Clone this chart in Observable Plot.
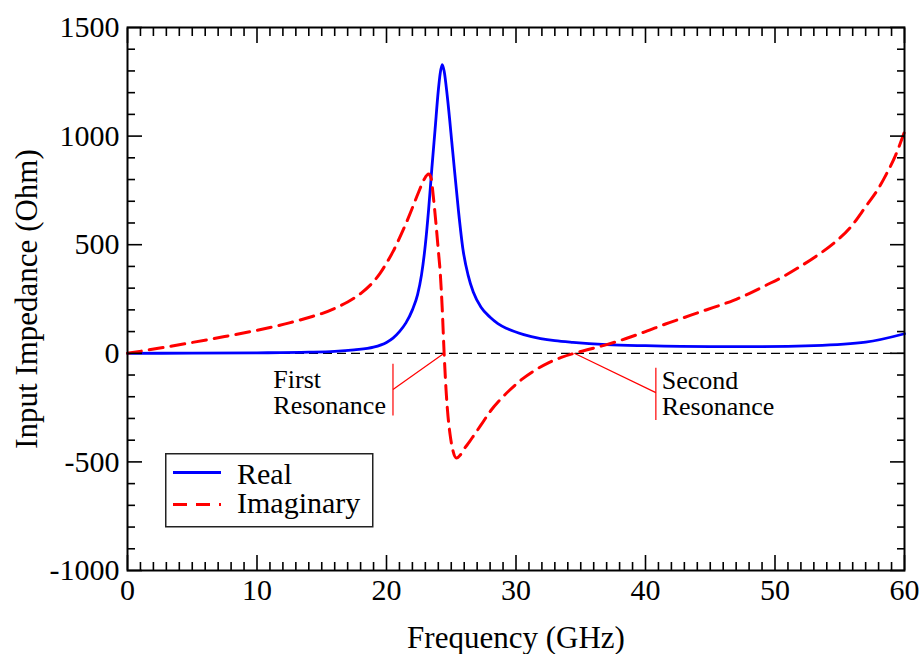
<!DOCTYPE html>
<html><head><meta charset="utf-8">
<script src="https://cdn.jsdelivr.net/npm/d3@7"></script>
<script src="https://cdn.jsdelivr.net/npm/@observablehq/plot@0.6"></script>
<style>
body{margin:0;background:#fff;}
#wrap{position:relative;width:922px;height:654px;}
</style></head><body><div id="wrap"></div>
<script>
// ---- data ----
const freqReal = [0, 5, 10, 14, 16, 17.5, 19, 20, 20.5, 21, 21.5, 22, 22.4, 22.7, 23, 23.25, 23.5, 23.75, 24, 24.15, 24.3, 24.45, 24.7, 25.1, 25.55, 25.9, 26.3, 26.7, 27.3, 28, 28.6, 29.3, 30.6, 31.9, 33, 34.4, 37, 40, 45, 49, 53, 57, 60];
const realZ    = [0, 0.5, 2, 5, 9, 16, 28, 50, 70, 100, 140, 200, 270, 360, 500, 660, 850, 1030, 1210, 1290, 1329, 1300, 1180, 937, 660, 480, 360, 282, 212, 166, 137, 114, 86, 68, 58, 50, 40, 35, 31, 31, 35, 51, 90];
const freqImag = [0, 2.5, 5, 7.5, 10, 12.5, 14, 15, 16, 17, 18, 19, 19.5, 20, 20.5, 21, 21.5, 22, 22.5, 22.9, 23.25, 23.45, 23.6, 23.8, 24, 24.15, 24.3, 24.45, 24.6, 24.75, 24.9, 25.1, 25.4, 25.7, 26, 26.4, 26.8, 27.3, 28, 28.8, 29.5, 30.5, 31.5, 32.5, 33.5, 34.5, 35.5, 37, 38.5, 40, 41.6, 43, 44.2, 45.5, 46.8, 48, 49.3, 50.6, 51.9, 53.2, 54.5, 55.8, 57, 58, 58.6, 59.3, 60];
const imagZ    = [0, 24, 50, 77, 106, 140, 165, 183, 207, 236, 275, 330, 368, 415, 468, 530, 597, 670, 745, 800, 825, 805, 730, 610, 475, 370, 210, 0, -170, -290, -370, -440, -482, -468, -440, -408, -373, -330, -268, -212, -170, -118, -77, -44, -19, 0, 16, 40, 68, 100, 136, 165, 190, 216, 244, 275, 313, 352, 398, 448, 505, 578, 675, 760, 825, 910, 1020];
const seriesNames = ["Real", "Imaginary"];
const xTicks = [0, 10, 20, 30, 40, 50, 60];
const yTicks = [-1000, -500, 0, 500, 1000, 1500];
const xTitle = "Frequency (GHz)";
const yTitle = "Input Impedance (Ohm)";
const resonanceFreq = [24.45, 34.5];
const resonanceLabels = ["First\nResonance", "Second\nResonance"];

// ---- layout / style ----
const seriesColors = ["#0000ff", "#ff0000"];
const xMinor = d3.range(0, 61, 1).filter(d => d % 10 !== 0);
const yMinor = d3.range(-1000, 1501, 100).filter(d => d % 500 !== 0);
// callout geometry (bar x, bar top, bar bottom, elbow y, text x, text y)
const callouts = [
  {bx: 20.5, top: -48, bottom: -286, elbow: -167, tx: 11.26, ty: -182},
  {bx: 40.8, top: -67, bottom: -307, elbow: -181, tx: 41.25, ty: -184}
];

const realData = freqReal.map((f, i) => ({f, v: realZ[i]}));
const imagData = freqImag.map((f, i) => ({f, v: imagZ[i]}));
const calloutData = callouts.map((c, i) => ({...c, px: resonanceFreq[i], label: resonanceLabels[i]}));

const font = "'Liberation Serif', 'Times New Roman', Times, serif";
const blank = () => "";

const chart = Plot.plot({
  width: 922, height: 654,
  marginLeft: 127, marginRight: 18, marginTop: 27, marginBottom: 84,
  style: {fontFamily: font, fontSize: "30px", color: "#000", background: "#fff", overflow: "visible"},
  x: {domain: [0, 60]},
  y: {domain: [-1000, 1500]},
  marks: [
    Plot.ruleY([0], {stroke: "#000", strokeWidth: 1.3, strokeDasharray: "9,5"}),
    Plot.line(realData, {x: "f", y: "v", stroke: seriesColors[0], strokeWidth: 2.8, curve: "monotone-x"}),
    Plot.line(imagData, {x: "f", y: "v", stroke: seriesColors[1], strokeWidth: 3, strokeDasharray: "14,8", curve: "monotone-x"}),
    // callouts
    Plot.link(calloutData, {x1: "bx", x2: "bx", y1: "top", y2: "bottom", stroke: "#ff0000", strokeWidth: 1.2}),
    Plot.link(calloutData, {x1: "bx", y1: "elbow", x2: "px", y2: () => 0, stroke: "#ff0000", strokeWidth: 1.2}),
    Plot.text(calloutData, {x: "tx", y: "ty", text: "label", textAnchor: "start", lineAnchor: "middle", lineHeight: 1, fontSize: 26, fill: "#000"}),
    // inward ticks, all four sides
    Plot.axisX({ticks: xTicks, tickSize: -15, tickFormat: blank, label: null, strokeWidth: 1.6}),
    Plot.axisX({ticks: xMinor, tickSize: -8, tickFormat: blank, label: null, strokeWidth: 1.6}),
    Plot.axisX({anchor: "top", ticks: xTicks, tickSize: -15, tickFormat: blank, label: null, strokeWidth: 1.6}),
    Plot.axisX({anchor: "top", ticks: xMinor, tickSize: -8, tickFormat: blank, label: null, strokeWidth: 1.6}),
    Plot.axisY({ticks: yTicks, tickSize: -15, tickFormat: blank, label: null, strokeWidth: 1.6}),
    Plot.axisY({ticks: yMinor, tickSize: -8, tickFormat: blank, label: null, strokeWidth: 1.6}),
    Plot.axisY({anchor: "right", ticks: yTicks, tickSize: -15, tickFormat: blank, label: null, strokeWidth: 1.6}),
    Plot.axisY({anchor: "right", ticks: yMinor, tickSize: -8, tickFormat: blank, label: null, strokeWidth: 1.6}),
    // tick labels
    Plot.axisX({ticks: xTicks, tickSize: 0, tickPadding: 8, tickFormat: d => String(d), label: null, fontSize: 30}),
    Plot.axisY({ticks: yTicks, tickSize: 0, tickPadding: 8, tickFormat: d => String(d), label: null, fontSize: 30}),
    // axis titles
    Plot.text([xTitle], {frameAnchor: "bottom", textAnchor: "middle", dy: 77, fontSize: 31, fill: "#000"}),
    Plot.text([yTitle], {frameAnchor: "left", textAnchor: "middle", lineAnchor: "middle", rotate: -90, dx: -100, fontSize: 31, fill: "#000"}),
    Plot.frame({stroke: "#000", strokeWidth: 2})
  ]
});
document.getElementById("wrap").appendChild(chart);

// legend (box inside the plot area)
const leg = d3.select("#wrap").append("svg")
  .attr("width", 212).attr("height", 78)
  .style("position", "absolute").style("left", "165px").style("top", "453px")
  .style("font-family", font);
leg.append("rect").attr("x", 0.75).attr("y", 0.75).attr("width", 207).attr("height", 73)
  .attr("fill", "#fff").attr("stroke", "#222").attr("stroke-width", 1.5);
seriesNames.forEach((name, i) => {
  const ly = 19.5 + 32 * i;
  leg.append("line").attr("x1", 8).attr("x2", 56).attr("y1", ly).attr("y2", ly)
    .attr("stroke", seriesColors[i]).attr("stroke-width", i ? 3 : 2.8)
    .attr("stroke-dasharray", i ? "14,9" : null);
  leg.append("text").attr("x", 72).attr("y", 31 + 28.7 * i)
    .attr("font-size", 30).attr("fill", "#000").text(name);
});
</script>
</body></html>
